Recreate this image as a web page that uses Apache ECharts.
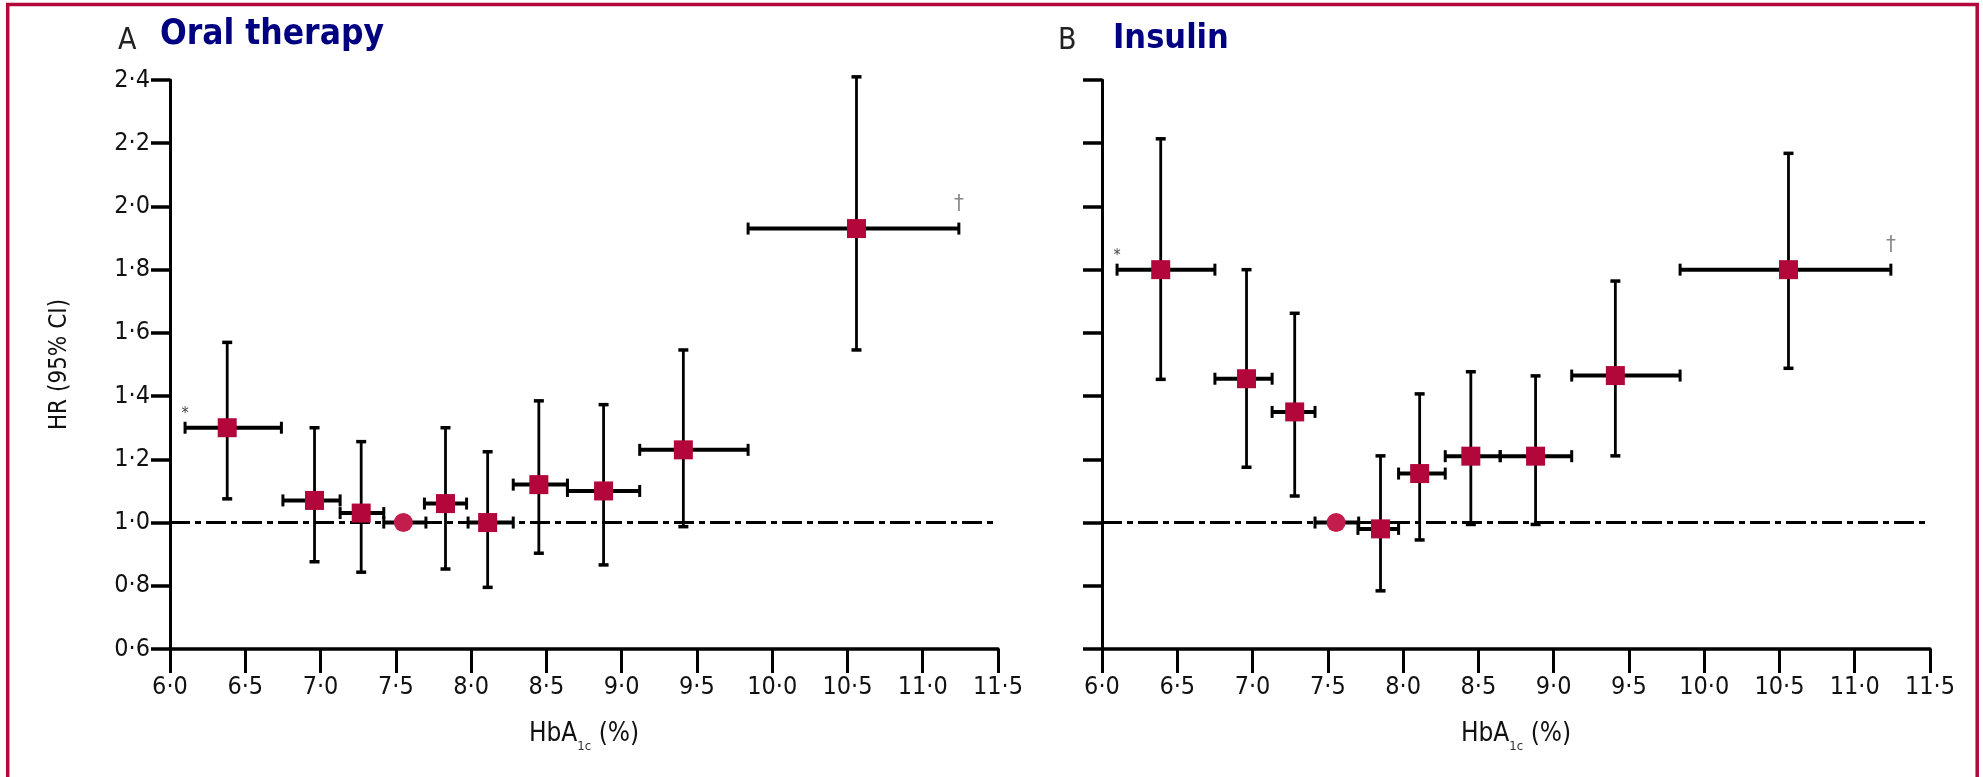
<!DOCTYPE html>
<html><head><meta charset="utf-8">
<script src="https://cdn.jsdelivr.net/npm/echarts@6/dist/echarts.min.js"></script>
<style>html,body{margin:0;padding:0;background:#fff}#c{width:1983px;height:777px}</style>
</head><body><div id="c"></div>
<script>
// ---- Panel A: Oral therapy ----
const oralHbA1c     = [6.38, 6.96, 7.27, 7.55, 7.83, 8.11, 8.45, 8.88, 9.41, 10.56];
const oralHbA1cLow  = [6.10, 6.75, 7.13, 7.42, 7.69, 7.98, 8.28, 8.64, 9.12, 9.84];
const oralHbA1cHigh = [6.74, 7.13, 7.42, 7.70, 7.97, 8.28, 8.64, 9.12, 9.84, 11.24];
const oralHR        = [1.30, 1.07, 1.03, 1.00, 1.06, 1.00, 1.12, 1.10, 1.23, 1.93];
const oralHRLow     = [1.075, 0.876, 0.843, null, 0.853, 0.795, 0.903, 0.866, 0.987, 1.546];
const oralHRHigh    = [1.57, 1.30, 1.256, null, 1.30, 1.224, 1.385, 1.373, 1.546, 2.41];
const oralNoteLeft  = ['*', '', '', '', '', '', '', '', '', ''];
const oralNoteRight = ['', '', '', '', '', '', '', '', '', '†'];
// ---- Panel B: Insulin ----
const insHbA1c      = [6.39, 6.96, 7.28, 7.555, 7.85, 8.11, 8.45, 8.88, 9.41, 10.56];
const insHbA1cLow   = [6.10, 6.75, 7.13, 7.415, 7.70, 7.97, 8.28, 8.645, 9.12, 9.84];
const insHbA1cHigh  = [6.75, 7.13, 7.415, 7.705, 7.97, 8.28, 8.645, 9.12, 9.84, 11.24];
const insHR         = [1.80, 1.455, 1.35, 1.00, 0.98, 1.155, 1.21, 1.21, 1.465, 1.80];
const insHRLow      = [1.453, 1.175, 1.084, null, 0.784, 0.945, 0.994, 0.994, 1.211, 1.488];
const insHRHigh     = [2.214, 1.80, 1.662, null, 1.211, 1.407, 1.477, 1.464, 1.764, 2.168];
const insNoteLeft   = ['*', '', '', '', '', '', '', '', '', ''];
const insNoteRight  = ['', '', '', '', '', '', '', '', '', '†'];
const referenceIndex = 3;
const refHR = 1.0;
// ---- axes ----
const xMin = 6.0, xMax = 11.5, xStep = 0.5;
const yMin = 0.6, yMax = 2.4, yStep = 0.2;
const panelTitles = ['Oral therapy', 'Insulin'];
const panelLetters = ['A', 'B'];
const xAxisTitle = 'HbA';
const xAxisSub = '1c';
const xAxisTail = ' (%)';
const yAxisTitle = 'HR (95% CI)';

const RED = '#b3063a';
const FONT = '"DejaVu Sans Condensed", "Liberation Sans Narrow", "DejaVu Sans", sans-serif';
const fmt = v => (Math.round(v * 10) / 10).toFixed(1).replace('.', '·');

const panels = [
  {x: oralHbA1c, xl: oralHbA1cLow, xh: oralHbA1cHigh, hr: oralHR, lo: oralHRLow, hi: oralHRHigh, nl: oralNoteLeft, nr: oralNoteRight},
  {x: insHbA1c, xl: insHbA1cLow, xh: insHbA1cHigh, hr: insHR, lo: insHRLow, hi: insHRHigh, nl: insNoteLeft, nr: insNoteRight}
];

function errRender(d) {
  return function (params, api) {
    const i = params.dataIndex;
    const c = api.coord([d.x[i], d.hr[i]]);
    const xl = api.coord([d.xl[i], d.hr[i]]);
    const xh = api.coord([d.xh[i], d.hr[i]]);
    const ch = [];
    ch.push({type: 'line', shape: {x1: xl[0], y1: c[1], x2: xh[0], y2: c[1]}, style: {stroke: '#000', lineWidth: 4}});
    ch.push({type: 'line', shape: {x1: xl[0], y1: c[1] - 6, x2: xl[0], y2: c[1] + 6}, style: {stroke: '#000', lineWidth: 3}});
    ch.push({type: 'line', shape: {x1: xh[0], y1: c[1] - 6, x2: xh[0], y2: c[1] + 6}, style: {stroke: '#000', lineWidth: 3}});
    if (d.lo[i] != null) {
      const yl = api.coord([d.x[i], d.lo[i]]);
      const yh = api.coord([d.x[i], d.hi[i]]);
      ch.push({type: 'line', shape: {x1: c[0], y1: yl[1], x2: c[0], y2: yh[1]}, style: {stroke: '#000', lineWidth: 2.8}});
      ch.push({type: 'line', shape: {x1: c[0] - 5, y1: yl[1], x2: c[0] + 5, y2: yl[1]}, style: {stroke: '#000', lineWidth: 3.5}});
      ch.push({type: 'line', shape: {x1: c[0] - 5, y1: yh[1], x2: c[0] + 5, y2: yh[1]}, style: {stroke: '#000', lineWidth: 3.5}});
    }
    if (d.nl[i]) {
      ch.push({type: 'text', x: xl[0], y: c[1] - 14, style: {text: d.nl[i], font: '16px ' + FONT, fill: '#444', align: 'center', verticalAlign: 'middle'}});
    }
    if (d.nr[i]) {
      ch.push({type: 'text', x: xh[0], y: c[1] - 24, style: {text: d.nr[i], font: '22px ' + FONT, fill: '#888', align: 'center', verticalAlign: 'middle'}});
    }
    return {type: 'group', children: ch};
  };
}

const grids = [
  {left: 170, top: 80, width: 828, height: 569},
  {left: 1102, top: 80, width: 828, height: 569}
];

const xAxes = grids.map((g, k) => ({
  type: 'value', gridIndex: k, min: xMin, max: xMax, interval: xStep,
  axisLine: {show: true, lineStyle: {color: '#000', width: 3.5}},
  axisTick: {show: true, length: 24, lineStyle: {color: '#000', width: 3}},
  splitLine: {show: false},
  axisLabel: {formatter: fmt, margin: 26, fontFamily: FONT, fontSize: 25, color: '#111'},
  name: '{m|' + xAxisTitle + '}{s|' + xAxisSub + '}{m|' + xAxisTail + '}',
  nameLocation: 'middle', nameGap: 72,
  nameTextStyle: {rich: {
    m: {fontFamily: FONT, fontSize: 26, color: '#111', verticalAlign: 'bottom'},
    s: {fontFamily: FONT, fontSize: 13, color: '#333', verticalAlign: 'bottom', padding: [0, 0, -6, 0]}
  }}
}));

const yAxes = grids.map((g, k) => ({
  type: 'value', gridIndex: k, min: yMin, max: yMax, interval: yStep,
  axisLine: {show: true, lineStyle: {color: '#000', width: 3}},
  axisTick: {show: true, length: 19, lineStyle: {color: '#000', width: 3.5}},
  splitLine: {show: false},
  axisLabel: {show: k === 0, formatter: fmt, margin: 20, fontFamily: FONT, fontSize: 25, color: '#111'},
  name: k === 0 ? yAxisTitle : '',
  nameLocation: 'middle', nameGap: 98, nameRotate: 90,
  nameTextStyle: {fontFamily: FONT, fontSize: 24, color: '#111'}
}));

const series = [];
panels.forEach((d, k) => {
  series.push({
    type: 'custom', xAxisIndex: k, yAxisIndex: k, z: 2,
    data: d.x.map((v, i) => [v, d.hr[i]]),
    encode: {x: 0, y: 1},
    renderItem: errRender(d),
    markLine: {
      silent: true, symbol: 'none', label: {show: false},
      lineStyle: {color: '#000', width: 3, type: [20, 5, 6, 5]},
      data: [{yAxis: refHR}]
    }
  });
  series.push({
    type: 'scatter', xAxisIndex: k, yAxisIndex: k, z: 5,
    data: d.x.map((v, i) => (i === referenceIndex
      ? {value: [v, d.hr[i]], symbol: 'circle', symbolSize: 19, itemStyle: {color: '#c21d4c'}}
      : {value: [v, d.hr[i]], symbol: 'rect', symbolSize: [19, 19]})),
    itemStyle: {color: RED, opacity: 1}
  });
});

const chart = echarts.init(document.getElementById('c'), null, {renderer: 'canvas'});
chart.setOption({
  animation: false,
  backgroundColor: '#fff',
  grid: grids,
  xAxis: xAxes,
  yAxis: yAxes,
  series: series,
  graphic: [
    {type: 'rect', shape: {x: 7.7, y: 4.5, width: 1969.5, height: 820}, style: {fill: 'none', stroke: RED, lineWidth: 3.5}, z: 0},
    {type: 'text', left: 118, top: 26, style: {text: panelLetters[0], font: '30px ' + FONT, fill: '#222'}},
    {type: 'text', left: 160, top: 17, style: {text: panelTitles[0], font: 'bold 35px ' + FONT, fill: '#000080'}},
    {type: 'text', left: 1058, top: 26, style: {text: panelLetters[1], font: '30px ' + FONT, fill: '#222'}},
    {type: 'text', left: 1113, top: 22, style: {text: panelTitles[1], font: 'bold 34px ' + FONT, fill: '#000080'}}
  ]
});
</script></body></html>
